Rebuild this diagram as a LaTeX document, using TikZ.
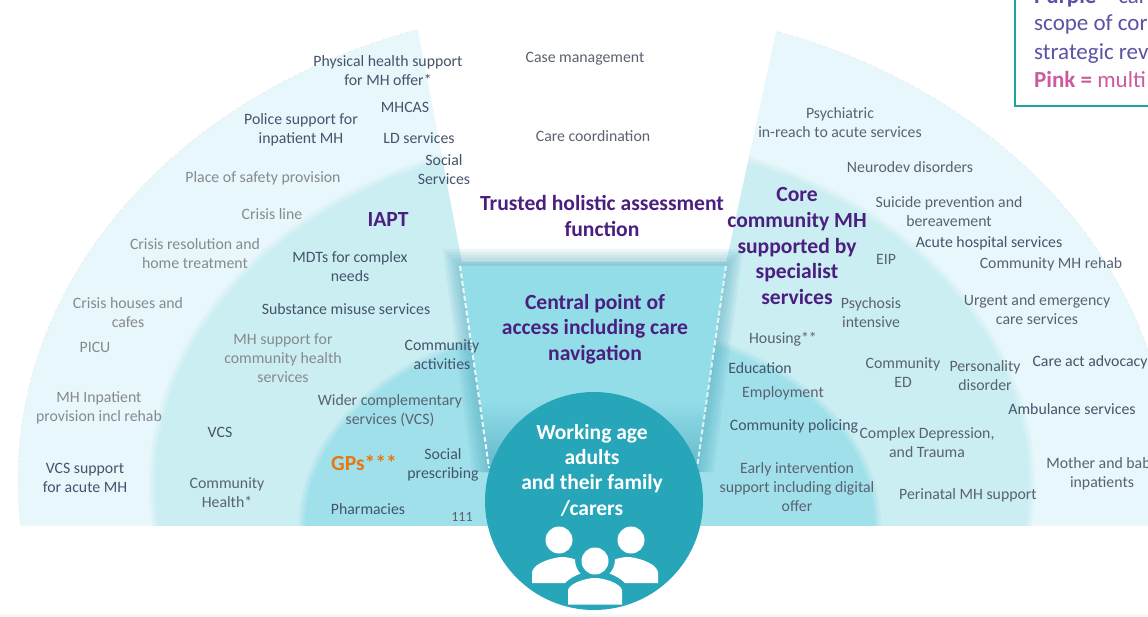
\documentclass[tikz,border=0pt]{standalone}
\usepackage{fontspec}
\setmainfont{Carlito}
\definecolor{ringa}{HTML}{E8F7FB}
\definecolor{ringb}{HTML}{CBEEF3}
\definecolor{ringc}{HTML}{A0E0EA}
\definecolor{central}{HTML}{93DDE8}
\definecolor{centrald}{HTML}{55ADC2}
\definecolor{blurc}{HTML}{3E9FB5}
\definecolor{disc}{HTML}{27A5B9}
\definecolor{dk}{HTML}{44546A}
\definecolor{mid}{HTML}{5A6270}
\definecolor{gy}{HTML}{858A8E}
\definecolor{purp}{HTML}{4B1F7F}
\definecolor{orng}{HTML}{E8770F}
\definecolor{legb}{HTML}{1FA3A3}
\definecolor{legp}{HTML}{5B53A5}
\definecolor{legk}{HTML}{CC5A9E}
\tikzset{
  tdk/.style={text=dk,font=\fontsize{15.8}{19}\selectfont,align=center,inner sep=0pt},
  tmid/.style={text=mid,font=\fontsize{15.8}{19}\selectfont,align=center,inner sep=0pt},
  tgy/.style={text=gy,font=\fontsize{15.8}{19}\selectfont,align=center,inner sep=0pt},
  thead/.style={text=purp,font=\fontsize{21.6}{25.7}\selectfont\bfseries,align=center,inner sep=0pt},
  twhite/.style={text=white,font=\fontsize{21.5}{25.3}\selectfont\bfseries,align=center,inner sep=0pt},
  people/.style={fill=white,draw=none},
  legline/.style={anchor=base west,inner sep=0pt,font=\fontsize{23}{25}\selectfont,text=legp},
}
\begin{document}
\begin{tikzpicture}[x=1pt,y=-1pt]
\useasboundingbox (0,0) rectangle (1148,617);
\clip (0,0) rectangle (1148,617);
\fill[white] (0,0) rectangle (1148,617);
\fill[black!3] (0,614) rectangle (1148,617);
% rings
\begin{scope}
\clip (0,0) rectangle (1148,525);
\fill[ringa] (594,480) ellipse [x radius=576pt,y radius=473pt];
\draw[black!12,dashed,line width=.5pt,opacity=.6] (594,480) ellipse [x radius=576pt,y radius=473pt];
\foreach \d/\o in {6/.25,4/.3,2/.4}
  \fill[ringb,opacity=\o] (592,485) ellipse [x radius={437pt+\d pt},y radius={345pt+\d pt}];
\fill[ringb] (592,485) ellipse [x radius=437pt,y radius=345pt];
\foreach \d/\o in {6/.25,4/.3,2/.4}
  \fill[ringc,opacity=\o] (590,525) ellipse [x radius={285pt+\d pt},y radius={200pt+\d pt}];
\fill[ringc] (590,525) ellipse [x radius=285pt,y radius=200pt];
\end{scope}
% white wedge
\fill[white] (408,-5) -- (780,-5) -- (776,31) -- (726,262) -- (462,262) -- (418,30) -- cycle;
% soft shadow round central funnel
\coordinate (tl) at (460,266);
\coordinate (tr) at (726,266);
\coordinate (bl) at (489,468);
\coordinate (br) at (697,468);
\foreach \d in {2,5,8,11,14,17}
  \fill[blurc,opacity=.09] ([shift={(-\d,-\d)}]tl) -- ([shift={(\d,-\d)}]tr) -- ([shift={(\d,4)}]br) -- ([shift={(-\d,4)}]bl) -- cycle;
% re-cut the wedge above the band
\fill[white] (408,-5) -- (780,-5) -- (776,31) -- (729,248) -- (461,248) -- (418,30) -- cycle;
% central funnel
\fill[central] (tl) -- (tr) -- (706.5,400) -- (480,400) -- cycle;
\shade[top color=central,bottom color=centrald] (480,399.5) -- (706.5,399.5) -- (br) -- (697,490) -- (489,490) -- (bl) -- cycle;
\draw[white,opacity=.85,line width=2pt,dash pattern=on 5pt off 2.5pt] (tl) -- (bl);
\draw[white,opacity=.75,line width=2pt,dash pattern=on 5pt off 2.5pt] (tr) -- (br);
% disc
\node[circle,fill=disc,minimum size=218pt,inner sep=0pt] (disc) at (594,501) {};
% people
\node[circle,people,minimum size=27pt,inner sep=0pt] (headl) at (559,540) {};
\node[circle,people,minimum size=27pt,inner sep=0pt] (headr) at (631,540) {};
\node[circle,people,minimum size=27pt,inner sep=0pt] (headc) at (595,561) {};
\fill[people] (532,583) -- (532,572) .. controls (534,562) and (556,557) .. (562,557) .. controls (566,557) and (572,558) .. (575,559.5) .. controls (575,565) and (577,570) .. (580.5,573.5) .. controls (574,576) and (569,579) .. (565,583) -- cycle;
\fill[people] (658,583) -- (658,572) .. controls (656,562) and (634,557) .. (628,557) .. controls (624,557) and (618,558) .. (615,559.5) .. controls (615,565) and (613,570) .. (609.5,573.5) .. controls (616,576) and (621,579) .. (625,583) -- cycle;
\fill[people] (568,604.5) -- (568,590) .. controls (570,583) and (586,578) .. (595,578) .. controls (604,578) and (620,583) .. (622,590) -- (622,604.5) -- cycle;
% legend
\draw[legb,line width=1.6pt,fill=white] (1015,-5) rectangle (1160,106);
\node[legline] (leg1) at (1034,4) {\textbf{Purple} = car};
\node[legline] (leg2) at (1034,31) {scope of cor};
\node[legline] (leg3) at (1034,60) {strategic rev};
\node[legline,text=legk] (leg4) at (1034,88) {\textbf{Pink =} multi};
% headings
\node[thead] (trusted) at (602,216) {Trusted holistic assessment\\function};
\node[thead] (cpa) at (595,329) {Central point of\\access including care\\navigation};
\node[thead] (core) at (797,246) {Core\\community MH\\supported by\\specialist\\services};
\node[thead] (iapt) at (388,219) {IAPT};
\node[twhite] (wa) at (592,470) {Working age\\adults\\and their family\\/carers};
\node[text=orng,font=\fontsize{21.5}{23}\selectfont\bfseries,inner sep=0pt] (gps) at (364,463) {GPs***};
% left labels
\node[tdk] (n1) at (388,71) {Physical health support\\for MH offer*};
\node[tdk] (n2) at (405,107) {MHCAS};
\node[tmid] (n3) at (585,59) {Case management};
\node[tmid] (n4) at (593,136) {Care coordination};
\node[tdk] (n5) at (419,138) {LD services};
\node[tdk] (n6) at (444,170) {Social\\Services};
\node[tdk] (n7) at (301,130) {Police support for\\inpatient MH};
\node[tgy] (n8) at (263,178) {Place of safety provision};
\node[tgy] (n9) at (272,214) {Crisis line};
\node[tgy] (n10) at (195,254) {Crisis resolution and\\home treatment};
\node[tdk] (n11) at (350,267) {MDTs for complex\\needs};
\node[tgy] (n12) at (128,313) {Crisis houses and\\cafes};
\node[tdk] (n13) at (346,309) {Substance misuse services};
\node[tgy] (n14) at (95,347) {PICU};
\node[tgy] (n15) at (283,358) {MH support for\\community health\\services};
\node[tdk] (n16) at (442,355) {Community\\activities};
\node[tgy] (n17) at (99,408) {MH Inpatient\\provision incl rehab};
\node[tmid] (n18) at (390,411) {Wider complementary\\services (VCS)};
\node[tdk] (n19) at (220,432) {VCS};
\node[tdk] (n20) at (85,478) {VCS support\\for acute MH};
\node[tdk] (n21) at (443,465) {Social\\prescribing};
\node[tmid] (n22) at (227,493) {Community\\Health*};
\node[tdk] (n23) at (368,509) {Pharmacies};
\node[tmid,font=\fontsize{14}{15}\selectfont] (n24) at (462,517) {111};
% right labels
\node[tmid] (r1) at (840,123) {Psychiatric\\in-reach to acute services};
\node[tmid] (r2) at (910,167) {Neurodev disorders};
\node[tmid] (r3) at (949,212) {Suicide prevention and\\bereavement};
\node[tdk] (r4) at (989,243) {Acute hospital services};
\node[tmid] (r5) at (886,259) {EIP};
\node[tmid] (r6) at (1051,264) {Community MH rehab};
\node[tmid] (r7) at (1037,310) {Urgent and emergency\\care services};
\node[tmid] (r8) at (871,313) {Psychosis\\intensive};
\node[tmid] (r9) at (783,339) {Housing**};
\node[tdk] (r10) at (760,368) {Education};
\node[tmid] (r11) at (903,373) {Community\\ED};
\node[tmid] (r12) at (985,376) {Personality\\disorder};
\node[tdk] (r13) at (1090,362) {Care act advocacy};
\node[tmid] (r14) at (783,393) {Employment};
\node[tdk] (r15) at (1072,409) {Ambulance services};
\node[tdk] (r16) at (794,426) {Community policing};
\node[tmid] (r17) at (927,443) {Complex Depression,\\and Trauma};
\node[tmid] (r18) at (797,487) {Early intervention\\support including digital\\offer};
\node[tmid] (r19) at (968,495) {Perinatal MH support};
\node[tmid] (r20) at (1102,474) {Mother and baby\\inpatients};
\end{tikzpicture}
\end{document}
